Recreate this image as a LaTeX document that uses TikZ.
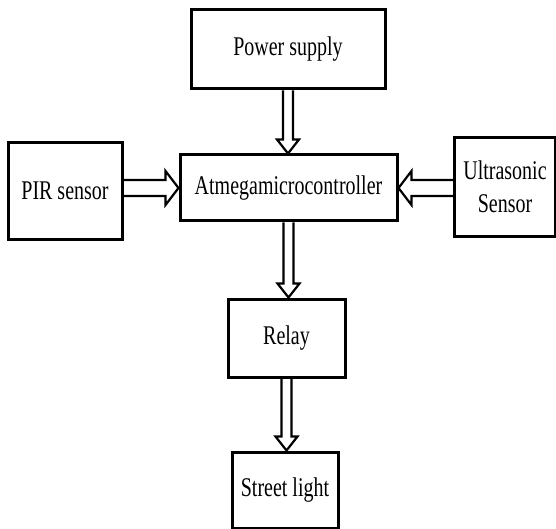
\documentclass[tikz,border=0pt]{standalone}
\usepackage{fontspec}
\setmainfont[FakeStretch=0.74]{Liberation Serif}
\usetikzlibrary{calc}
\tikzset{
  blockbox/.style={draw, line width=3pt, inner sep=0pt, align=center,
    font=\fontsize{27}{33}\selectfont},
  arrowline/.style={draw, line width=2.2pt, line join=miter},
}
\newcommand\varrowpath[2]{%
  \draw[arrowline] let \p1=(#1.south), \p2=(#2.north) in
    (\x1-5pt,\y1) -- (\x1-5pt,\y2+14pt) -- (\x1-11pt,\y2+14pt) -- (\x1,\y2)
    -- (\x1+11pt,\y2+14pt) -- (\x1+5pt,\y2+14pt) -- (\x1+5pt,\y1);}
\begin{document}
\begin{tikzpicture}[x=1pt,y=-1pt]
\useasboundingbox (0,0) rectangle (556,529);
\node[blockbox, minimum width=194pt, minimum height=79pt] (ps) at (288,49.5) {Power supply};
\node[blockbox, minimum width=217pt, minimum height=66pt] (mc) at (288.5,188) {Atmegamicrocontroller};
\node[blockbox, minimum width=114pt, minimum height=96pt] (pir) at (65,191) {PIR sensor};
\node[blockbox, minimum width=101pt, minimum height=98pt] (us) at (505,187) {Ultrasonic\\Sensor};
\node[blockbox, minimum width=117pt, minimum height=78pt] (rl) at (286.5,338) {Relay};
\node[blockbox, minimum width=106pt, minimum height=76pt] (sl) at (285,490) {Street light};
\varrowpath{ps}{mc}
\varrowpath{mc}{rl}
\varrowpath{rl}{sl}
\draw[arrowline] let \p1=(pir.east), \p2=(mc.west) in
  (\x1,\y2+8pt) -- (\x2-13pt,\y2+8pt) -- (\x2-13pt,\y2+17pt) -- (\x2,\y2)
  -- (\x2-13pt,\y2-17pt) -- (\x2-13pt,\y2-8pt) -- (\x1,\y2-8pt);
\draw[arrowline] let \p1=(us.west), \p2=(mc.east) in
  (\x1,\y2+8pt) -- (\x2+13pt,\y2+8pt) -- (\x2+13pt,\y2+17pt) -- (\x2,\y2)
  -- (\x2+13pt,\y2-17pt) -- (\x2+13pt,\y2-8pt) -- (\x1,\y2-8pt);
\end{tikzpicture}
\end{document}
